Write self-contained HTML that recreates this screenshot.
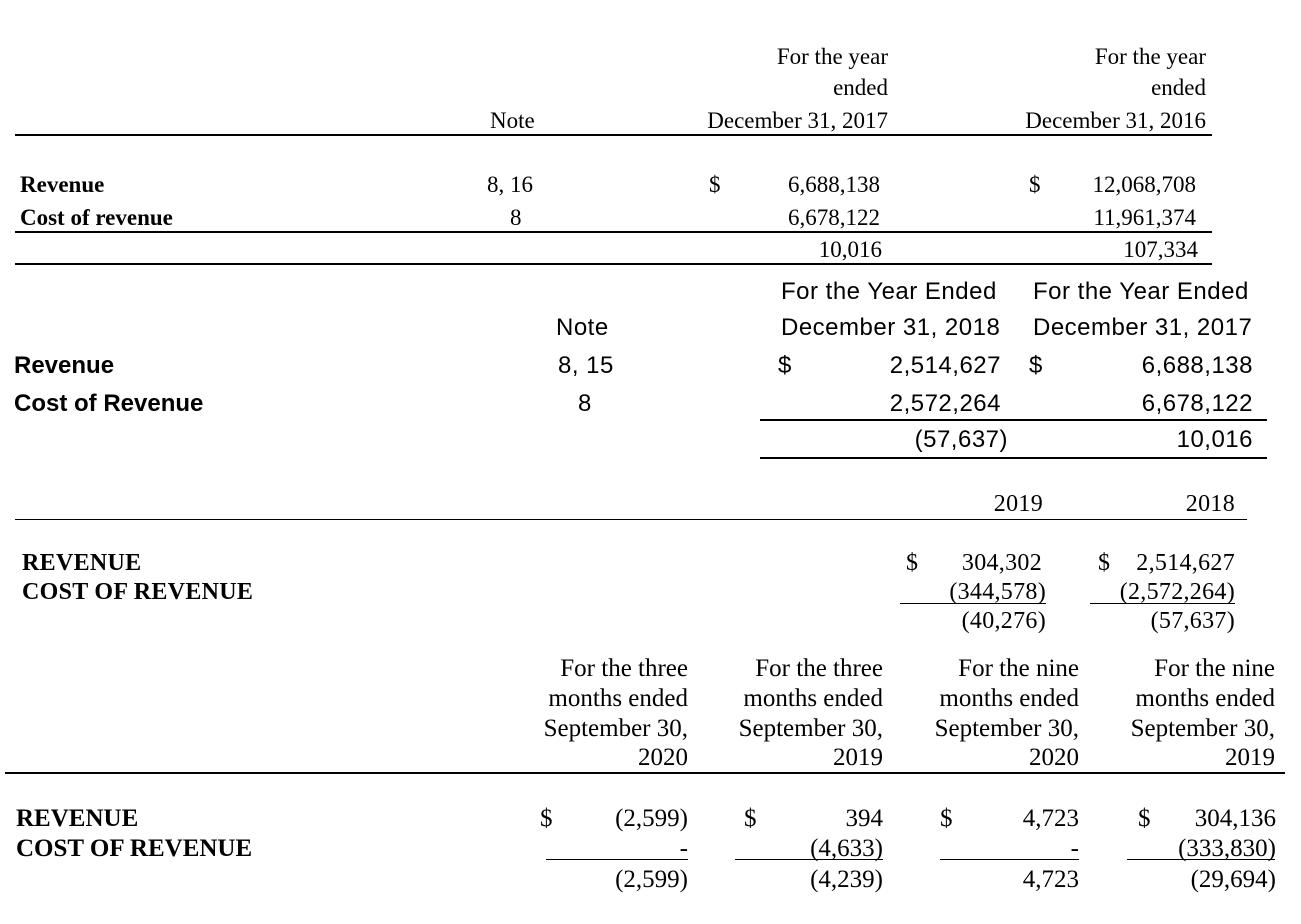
<!DOCTYPE html>
<html><head><meta charset="utf-8"><style>
body{margin:0;width:1301px;height:924px;background:#fff;position:relative;overflow:hidden;color:#000}
.t{position:absolute;white-space:nowrap;line-height:26px;height:26px}
.s{font-family:"Liberation Serif",serif;font-size:23px}
.s3{font-family:"Liberation Serif",serif;font-size:24px;letter-spacing:0.3px}
.s4{font-family:"Liberation Serif",serif;font-size:25px}
.a{font-family:"Liberation Sans",sans-serif;font-size:24px;letter-spacing:0.5px}
.a.b{letter-spacing:0}
.b{font-weight:bold}
.r{text-align:right}
.l{position:absolute;background:#000}
</style></head><body>
<!-- Section 1 -->
<div class="t s r" style="top:44px;right:413px">For the year</div>
<div class="t s r" style="top:75px;right:413px">ended</div>
<div class="t s r" style="top:108px;right:413px">December 31, 2017</div>
<div class="t s r" style="top:44px;right:95px">For the year</div>
<div class="t s r" style="top:75px;right:95px">ended</div>
<div class="t s r" style="top:108px;right:95px">December 31, 2016</div>
<div class="t s" style="top:108px;left:490px">Note</div>
<div class="l" style="top:134px;left:15px;width:1197px;height:2px"></div>
<div class="t s b" style="top:172px;left:20px">Revenue</div>
<div class="t s b" style="top:205px;left:20px">Cost of revenue</div>
<div class="t s" style="top:172px;left:487px">8, 16</div>
<div class="t s" style="top:205px;left:510px">8</div>
<div class="t s" style="top:172px;left:709px">$</div>
<div class="t s" style="top:172px;left:1029px">$</div>
<div class="t s r" style="top:172px;right:421px">6,688,138</div>
<div class="t s r" style="top:205px;right:421px">6,678,122</div>
<div class="t s r" style="top:172px;right:105px">12,068,708</div>
<div class="t s r" style="top:205px;right:105px">11,961,374</div>
<div class="l" style="top:231px;left:15px;width:1197px;height:2px"></div>
<div class="t s r" style="top:237px;right:419px">10,016</div>
<div class="t s r" style="top:237px;right:103px">107,334</div>
<div class="l" style="top:263px;left:15px;width:1197px;height:2px"></div>
<!-- Section 2 -->
<div class="t a" style="top:279px;left:781px">For the Year Ended</div>
<div class="t a" style="top:279px;left:1033px">For the Year Ended</div>
<div class="t a" style="top:315px;left:781px">December 31, 2018</div>
<div class="t a" style="top:315px;left:1033px">December 31, 2017</div>
<div class="t a" style="top:315px;left:556px">Note</div>
<div class="t a b" style="top:353px;left:14px">Revenue</div>
<div class="t a b" style="top:391px;left:14px">Cost of Revenue</div>
<div class="t a" style="top:353px;left:558px">8, 15</div>
<div class="t a" style="top:391px;left:578px">8</div>
<div class="t a" style="top:353px;left:778px">$</div>
<div class="t a" style="top:353px;left:1029px">$</div>
<div class="t a r" style="top:353px;right:300px">2,514,627</div>
<div class="t a r" style="top:353px;right:48px">6,688,138</div>
<div class="t a r" style="top:391px;right:300px">2,572,264</div>
<div class="t a r" style="top:391px;right:48px">6,678,122</div>
<div class="l" style="top:419px;left:760px;width:507px;height:2px"></div>
<div class="t a r" style="top:427px;right:293px">(57,637)</div>
<div class="t a r" style="top:427px;right:48px">10,016</div>
<div class="l" style="top:457px;left:760px;width:507px;height:2px"></div>
<!-- Section 3 -->
<div class="t s3 r" style="top:491px;right:258px">2019</div>
<div class="t s3 r" style="top:491px;right:66px">2018</div>
<div class="l" style="top:519px;left:15px;width:1232px;height:1px"></div>
<div class="t s3 b" style="top:550px;left:22px">REVENUE</div>
<div class="t s3 b" style="top:579px;left:22px">COST OF REVENUE</div>
<div class="t s3" style="top:550px;left:906px">$</div>
<div class="t s3" style="top:550px;left:1098px">$</div>
<div class="t s3 r" style="top:550px;right:259px">304,302</div>
<div class="t s3 r" style="top:550px;right:66px">2,514,627</div>
<div class="t s3 r" style="top:579px;right:255px">(344,578)</div>
<div class="t s3 r" style="top:579px;right:66px">(2,572,264)</div>
<div class="l" style="top:603px;left:900px;width:146px;height:1px"></div>
<div class="l" style="top:603px;left:1090px;width:145px;height:1px"></div>
<div class="t s3 r" style="top:608px;right:255px">(40,276)</div>
<div class="t s3 r" style="top:608px;right:66px">(57,637)</div>
<!-- Section 4 -->
<div class="t s4 r" style="top:656px;right:613px">For the three</div>
<div class="t s4 r" style="top:686px;right:613px">months ended</div>
<div class="t s4 r" style="top:716px;right:613px">September 30,</div>
<div class="t s4 r" style="top:745px;right:613px">2020</div>
<div class="t s4 r" style="top:656px;right:418px">For the three</div>
<div class="t s4 r" style="top:686px;right:418px">months ended</div>
<div class="t s4 r" style="top:716px;right:418px">September 30,</div>
<div class="t s4 r" style="top:745px;right:418px">2019</div>
<div class="t s4 r" style="top:656px;right:222px">For the nine</div>
<div class="t s4 r" style="top:686px;right:222px">months ended</div>
<div class="t s4 r" style="top:716px;right:222px">September 30,</div>
<div class="t s4 r" style="top:745px;right:222px">2020</div>
<div class="t s4 r" style="top:656px;right:26px">For the nine</div>
<div class="t s4 r" style="top:686px;right:26px">months ended</div>
<div class="t s4 r" style="top:716px;right:26px">September 30,</div>
<div class="t s4 r" style="top:745px;right:26px">2019</div>
<div class="l" style="top:772px;left:5px;width:1280px;height:2px"></div>
<div class="t s4 b" style="top:806px;left:16px">REVENUE</div>
<div class="t s4 b" style="top:836px;left:16px">COST OF REVENUE</div>
<div class="t s4" style="top:806px;left:540px">$</div>
<div class="t s4" style="top:806px;left:744px">$</div>
<div class="t s4" style="top:806px;left:940px">$</div>
<div class="t s4" style="top:806px;left:1138px">$</div>
<div class="t s4 r" style="top:806px;right:613px">(2,599)</div>
<div class="t s4 r" style="top:806px;right:418px">394</div>
<div class="t s4 r" style="top:806px;right:222px">4,723</div>
<div class="t s4 r" style="top:806px;right:25px">304,136</div>
<div class="t s4 r" style="top:836px;right:613px">-</div>
<div class="t s4 r" style="top:836px;right:418px">(4,633)</div>
<div class="t s4 r" style="top:836px;right:222px">-</div>
<div class="t s4 r" style="top:836px;right:25px">(333,830)</div>
<div class="l" style="top:859px;left:546px;width:142px;height:1px"></div>
<div class="l" style="top:859px;left:735px;width:148px;height:1px"></div>
<div class="l" style="top:859px;left:940px;width:139px;height:1px"></div>
<div class="l" style="top:859px;left:1127px;width:148px;height:1px"></div>
<div class="t s4 r" style="top:867px;right:613px">(2,599)</div>
<div class="t s4 r" style="top:867px;right:418px">(4,239)</div>
<div class="t s4 r" style="top:867px;right:222px">4,723</div>
<div class="t s4 r" style="top:867px;right:25px">(29,694)</div>
</body></html>
